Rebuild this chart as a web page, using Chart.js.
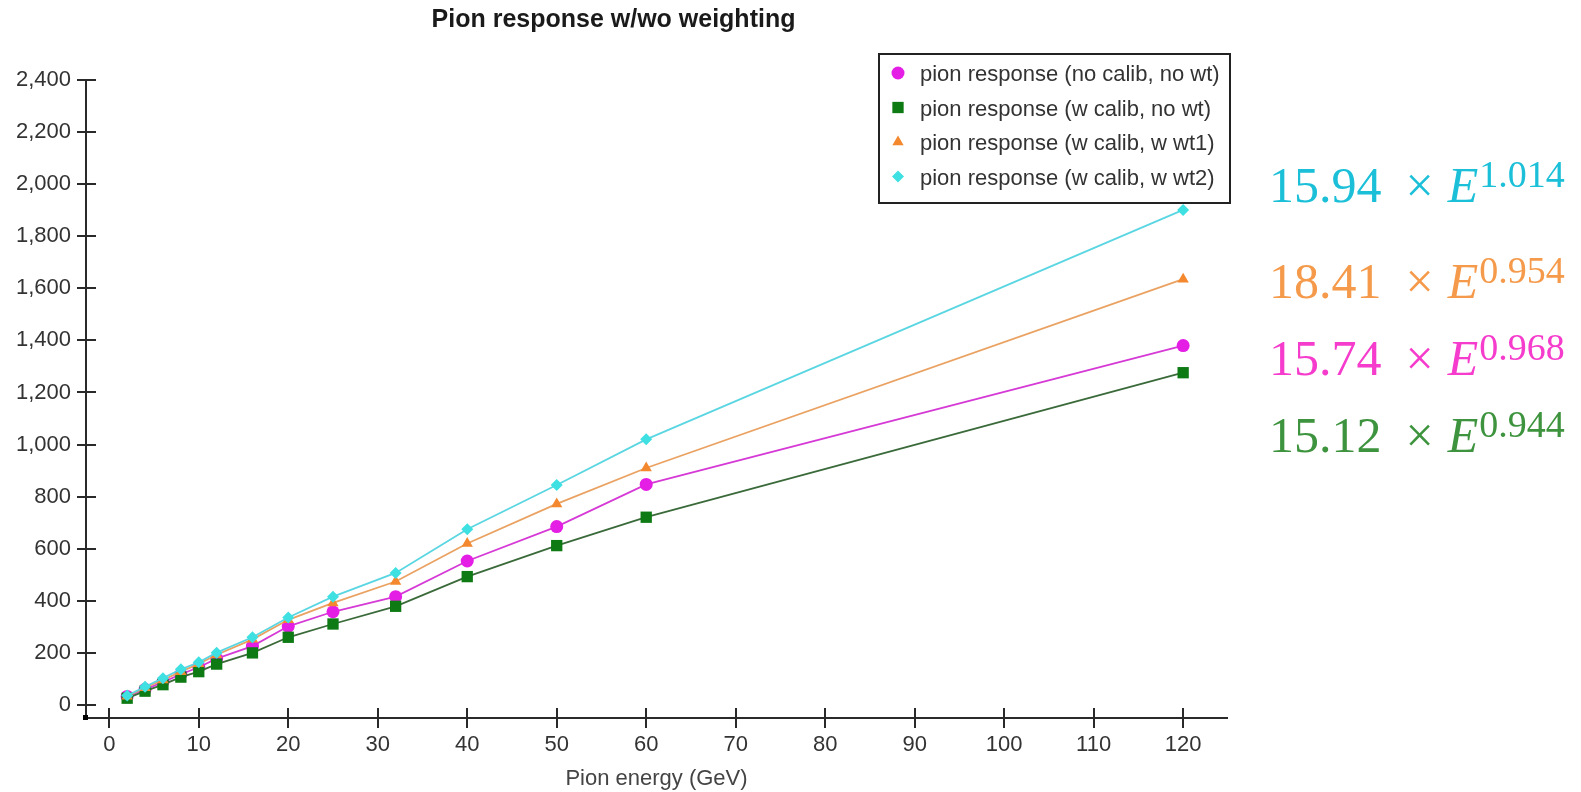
<!DOCTYPE html>
<html>
<head>
<meta charset="utf-8">
<title>Pion response w/wo weighting</title>
<script src="https://cdn.jsdelivr.net/npm/chart.js@4.4.1/dist/chart.umd.min.js"></script>
<style>
    html, body { margin: 0; padding: 0; background: #fff; }
    #wrap { position: relative; width: 1581px; height: 792px; }
    .fit { position: absolute; left: 1269px; font-family: "Liberation Serif", serif; font-size: 50px; line-height: 50px; white-space: nowrap; }
    .fit .x { margin-left: 24px; }
    .fit .e { font-style: italic; margin-left: 14px; }
    .fit .p { font-size: 38px; position: relative; top: -15px; margin-left: 1px; }
</style>
</head>
<body>
<div id="wrap">
    <canvas id="chart" width="1581" height="792"></canvas>
</div>
<script>
// Data
const energies = [2, 4, 6, 8, 10, 12, 16, 20, 25, 32, 40, 50, 60, 120];
const noCalibNoWt = [33, 60, 88, 118, 145, 178, 226, 302, 358, 416, 553, 685, 847, 1380];
const wCalibNoWt = [26, 53, 78, 107, 128, 157, 200, 260, 311, 379, 493, 612, 721, 1276];
const wCalibWt1 = [34, 66, 96, 128, 158, 193, 252, 327, 392, 474, 620, 772, 910, 1635];
const wCalibWt2 = [36, 70, 103, 137, 164, 201, 260, 336, 416, 507, 675, 845, 1020, 1901];

const seriesLabels = [
    'pion response (no calib, no wt)',
    'pion response (w calib, no wt)',
    'pion response (w calib, w wt1)',
    'pion response (w calib, w wt2)'
];

const xTicks = [0, 10, 20, 30, 40, 50, 60, 70, 80, 90, 100, 110, 120];
const yTicks = [0, 200, 400, 600, 800, 1000, 1200, 1400, 1600, 1800, 2000, 2200, 2400];

const chartTitle = 'Pion response w/wo weighting';
const xTitle = 'Pion energy (GeV)';

// fitted power laws shown at the right, top to bottom
const fitCoefs = ['15.94', '18.41', '15.74', '15.12'];
const fitExps = ['1.014', '0.954', '0.968', '0.944'];
const fitColors = ['#1bc0d8', '#f59a4a', '#f53ccc', '#3e943e'];
const fitTops = [160, 256, 333, 410];

const axisColor = '#2a2a2a';
const textColor = '#333';

Chart.defaults.font.family = '"Liberation Sans", Arial, sans-serif';
Chart.defaults.color = textColor;

function pts(values) {
    return energies.map((e, i) => ({ x: e, y: values[i] }));
}

// legend with a frame, drawn inside the plot like the original
const framedLegend = {
    id: 'framedLegend',
    afterDraw(chart) {
        const ctx = chart.ctx;
        const area = chart.chartArea;
        const xs = chart.scales.x;
        const ys = chart.scales.y;
        ctx.save();

        // tick marks cross the axis line: draw the inner halves
        ctx.strokeStyle = axisColor;
        ctx.lineWidth = 2;
        ctx.beginPath();
        xs.ticks.forEach(t => {
            const px = Math.round(xs.getPixelForValue(t.value));
            ctx.moveTo(px, area.bottom);
            ctx.lineTo(px, area.bottom - 10);
        });
        ys.ticks.forEach(t => {
            const py = Math.round(ys.getPixelForValue(t.value));
            ctx.moveTo(area.left, py);
            ctx.lineTo(area.left + 10, py);
        });
        ctx.stroke();
        ctx.fillStyle = '#000';
        ctx.fillRect(area.left - 3, area.bottom - 3, 5, 5);

        // legend box
        const bx = 879, by = 54, bw = 351, bh = 149;
        ctx.fillStyle = '#fff';
        ctx.fillRect(bx, by, bw, bh);
        ctx.strokeStyle = '#222';
        ctx.lineWidth = 2;
        ctx.strokeRect(bx, by, bw, bh);

        ctx.font = '22px "Liberation Sans", Arial, sans-serif';
        ctx.textBaseline = 'middle';
        ctx.textAlign = 'left';
        chart.data.datasets.forEach((ds, i) => {
            const y = 74 + i * 34.5;
            ctx.fillStyle = ds.pointBackgroundColor;
            Chart.helpers.drawPoint(ctx, {
                pointStyle: ds.pointStyle,
                rotation: 0,
                radius: ds.pointRadius,
                borderWidth: 0
            }, 898, y - 1);
            ctx.fillStyle = textColor;
            ctx.fillText(ds.label, 920, y + 1);
        });
        ctx.restore();
    }
};

new Chart(document.getElementById('chart'), {
    type: 'line',
    data: {
        datasets: [
            {
                label: seriesLabels[0],
                data: pts(noCalibNoWt),
                borderColor: '#d63ad6',
                pointBackgroundColor: '#e41ee4',
                pointStyle: 'circle',
                pointRadius: 6.5,
                order: 3
            },
            {
                label: seriesLabels[1],
                data: pts(wCalibNoWt),
                borderColor: '#3a6a3a',
                pointBackgroundColor: '#0e7a14',
                pointStyle: 'rect',
                pointRadius: 8,
                order: 2
            },
            {
                label: seriesLabels[2],
                data: pts(wCalibWt1),
                borderColor: '#eaa262',
                pointBackgroundColor: '#f4882e',
                pointStyle: 'triangle',
                pointRadius: 6.5,
                order: 1
            },
            {
                label: seriesLabels[3],
                data: pts(wCalibWt2),
                borderColor: '#5ad6e2',
                pointBackgroundColor: '#3ee0e2',
                pointStyle: 'rectRot',
                pointRadius: 6,
                order: 0
            }
        ]
    },
    options: {
        responsive: false,
        animation: false,
        events: [],
        devicePixelRatio: 1,
        elements: {
            line: { borderWidth: 1.8, tension: 0, fill: false },
            point: { borderWidth: 0 }
        },
        layout: { padding: { left: 0, right: 354, top: 0, bottom: 0 } },
        scales: {
            x: {
                type: 'linear',
                min: -2.6,
                max: 124.9,
                afterBuildTicks: s => { s.ticks = xTicks.map(v => ({ value: v })); },
                afterFit: s => { s.height = 74; },
                grid: { drawOnChartArea: false, color: axisColor, lineWidth: 2, tickLength: 10 },
                border: { color: axisColor, width: 2 },
                ticks: { font: { size: 22 }, color: textColor, padding: 4, maxRotation: 0 },
                title: { display: true, text: xTitle, font: { size: 22 }, color: '#444', padding: { top: 0, bottom: 0 } }
            },
            y: {
                type: 'linear',
                min: -50,
                max: 2400,
                afterBuildTicks: s => { s.ticks = yTicks.map(v => ({ value: v })); },
                afterFit: s => { s.width = 86; },
                grid: { drawOnChartArea: false, color: axisColor, lineWidth: 2, tickLength: 9 },
                border: { color: axisColor, width: 2 },
                ticks: {
                    font: { size: 22 },
                    color: textColor,
                    padding: 6,
                    callback: v => v.toLocaleString('en-US')
                }
            }
        },
        plugins: {
            legend: { display: false },
            tooltip: { enabled: false },
            title: {
                display: true,
                text: chartTitle,
                color: '#1a1a1a',
                font: { size: 25, weight: 'bold' },
                padding: { top: 5, bottom: 45 }
            }
        }
    },
    plugins: [framedLegend]
});

// fit formulas on the right
const wrap = document.getElementById('wrap');
fitCoefs.forEach((c, i) => {
    const div = document.createElement('div');
    div.className = 'fit';
    div.style.top = fitTops[i] + 'px';
    div.style.color = fitColors[i];
    div.innerHTML = `${c}<span class="x">×</span><span class="e">E</span><span class="p">${fitExps[i]}</span>`;
    wrap.appendChild(div);
});
</script>
</body>
</html>
